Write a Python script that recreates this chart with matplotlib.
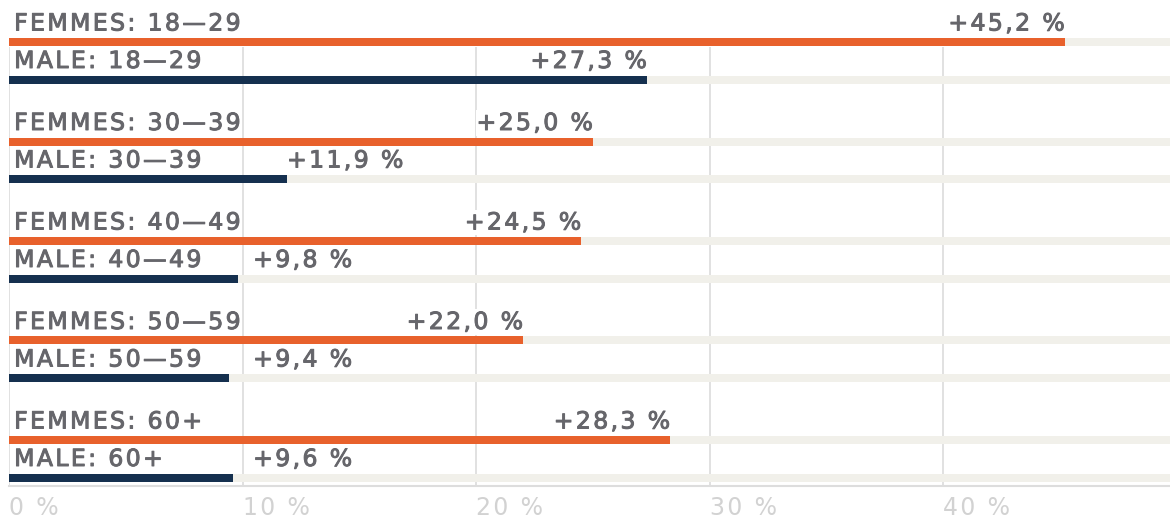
import numpy as np
import matplotlib.pyplot as plt
import matplotlib.patheffects as pe

# données
groupes = ["18\u201429", "30\u201439", "40\u201449", "50\u201459", "60+"]
femmes = [45.2, 25.0, 24.5, 22.0, 28.3]
hommes = [27.3, 11.9, 9.8, 9.4, 9.6]
ticks = [0, 10, 20, 30, 40]
tick_labels = ["0 %", "10 %", "20 %", "30 %", "40 %"]

ORANGE = "#e8612c"
NAVY = "#15304f"
TRACK = "#f1f0ea"
TEXT = "#66666b"
GRID = "#dcdcdc"

plt.rcParams['font.family'] = ['DejaVu Sans']


def espace(s):
    # espacement des lettres approximatif
    return "\u200a".join(s)


fig = plt.figure(figsize=(11.7, 5.19), dpi=100)
ax = fig.add_axes([9 / 1170, 33 / 519, 1 - 9 / 1170, 486 / 519])

xmax = 49.7
ax.set_xlim(0, xmax)
ax.set_ylim(4.44, -0.42)

h = 0.08
y_f = np.arange(len(groupes)) * 0.995
y_m = y_f + 0.375


def fmt(v):
    return "+" + f"{v:.1f}".replace(".", ",") + " %"


ax.vlines(ticks, 0.05, 4.44, color=GRID, lw=1.2, zorder=0)

box = dict(facecolor="white", edgecolor="none", pad=0.5)
fs = 17
gras = [pe.withStroke(linewidth=0.7, foreground=TEXT)]

for ys, vals, col, nom in [(y_f, femmes, ORANGE, "FEMMES"), (y_m, hommes, NAVY, "MALE")]:
    ax.barh(ys, [xmax] * len(ys), height=h, left=0, color=TRACK, zorder=1)
    ax.barh(ys, vals, height=h, color=col, zorder=2)
    for y, v, g in zip(ys, vals, groupes):
        ty = y - h / 2 - 0.025
        ax.text(0.22, ty, espace(f"{nom}: {g}"), ha="left", va="bottom",
                fontsize=fs, color=TEXT, zorder=3, bbox=box, path_effects=gras)
        if v > 15:
            ax.text(v, ty, espace(fmt(v)), ha="right", va="bottom",
                    fontsize=fs, color=TEXT, zorder=3, bbox=box, path_effects=gras)
        else:
            ax.text(max(v, 10.45), ty, espace(fmt(v)), ha="left", va="bottom",
                    fontsize=fs, color=TEXT, zorder=3, bbox=box, path_effects=gras)

for s in ["top", "right", "left"]:
    ax.spines[s].set_visible(False)
ax.spines["bottom"].set_color("#dddddd")
ax.spines["bottom"].set_linewidth(1.5)

ax.set_xticks(ticks)
ax.set_xticklabels([espace(t) for t in tick_labels], ha="left", fontsize=fs, color="#d2d2d2")
ax.tick_params(axis="x", length=0, pad=7)
ax.set_yticks([])

fig.savefig("out.png", dpi=100, facecolor="white")
